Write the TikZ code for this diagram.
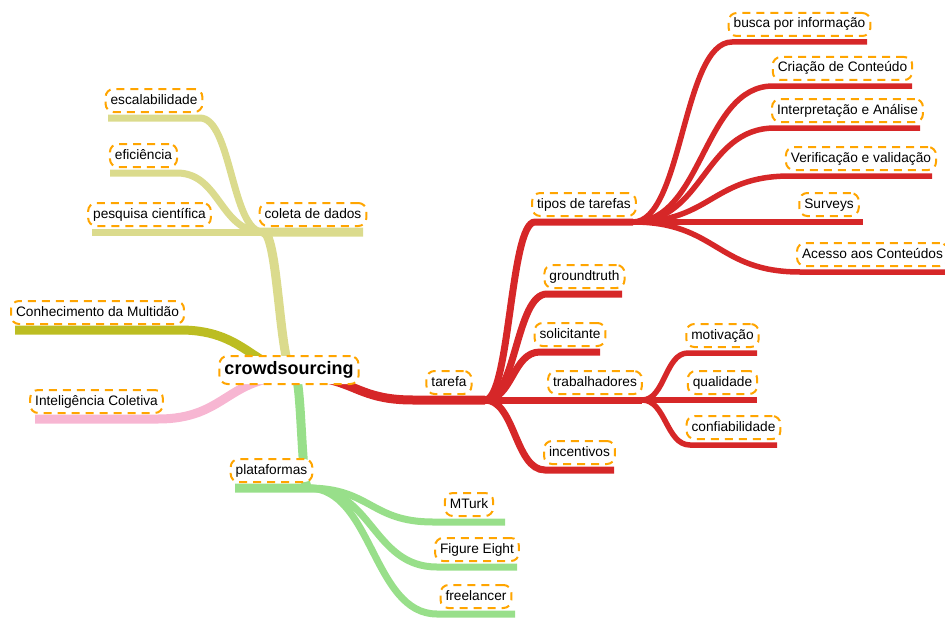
\documentclass[tikz,border=0pt]{standalone}
\usepackage{fontspec}
\setmainfont{Liberation Sans}
\usetikzlibrary{
  positioning,
  calc
}

\definecolor{coletacor}{HTML}{DBDB8D}
\definecolor{olivacor}{HTML}{BCBD22}
\definecolor{rosacor}{HTML}{F7B6D2}
\definecolor{verdecor}{HTML}{98DF8A}
\definecolor{tarefacor}{HTML}{D62728}
\definecolor{bordacor}{HTML}{FFA500}

\begin{document}
\begin{tikzpicture}[
  x=1pt,y=-1pt,
  topico/.style={draw=bordacor, fill=white, line width=2pt,
    dash pattern=on 8pt off 6pt, rounded corners=8pt,
    inner xsep=5pt, inner ysep=5pt, text height=10pt, text depth=3pt,
    font=\fontsize{13.7}{16}\selectfont},
  raiz/.style={topico, font=\fontsize{18}{20}\selectfont\bfseries,
    text height=13pt, text depth=4pt, inner ysep=5.5pt},
  ramo/.style={to path={let \p1=(\tikztostart), \p2=(\tikztotarget) in
    .. controls ({(\x1+\x2)/2},\y1) and ({(\x1+\x2)/2},\y2) .. (\tikztotarget)}},
  nivel1/.style={line width=9pt},
  nivel2/.style={line width=7pt},
  nivel3/.style={line width=5.5pt},
  coleta/.style={draw=coletacor},
  oliva/.style={draw=olivacor},
  rosa/.style={draw=rosacor},
  verde/.style={draw=verdecor},
  tarefa/.style={draw=tarefacor},
]
\useasboundingbox (0,0) rectangle (945,618);

% pontos de ligacao da raiz
\coordinate (hubR) at (295,376);
\coordinate (hubL) at (325,378);

% sublinhados: nome/x inicio/x fim/y
\foreach \nome/\xa/\xb/\y in {
  coleta/263/363/232, escalabilidade/108/200/118, eficiencia/110/177/173,
  pesquisa/92/207/232, conhecimento/15/180/330, inteligencia/35/158/419,
  tarefa/413/485/400, tipos/535/633/222, busca/732/867/42,
  criacao/773/912/86, interpretacao/775/920/128, verificacao/790/932/176,
  surveys/795/863/222, acesso/800/945/272, groundtruth/547/622/294,
  solicitante/540/600/352, trabalhadores/548/642/400, motivacao/688/757/353,
  qualidade/688/757/400, confiabilidade/690/777/445, incentivos/545/614/470,
  plataformas/235/308/488, mturk/433/505/522, figure/437/517/567,
  freelancer/437/515/614}{
  \coordinate (\nome-a) at (\xa,\y);
  \coordinate (\nome-b) at (\xb,\y);
  \coordinate (\nome-m) at ($(\nome-a)!0.5!(\nome-b)$);
}

% coleta de dados
\draw[coleta, nivel1] (hubR) to[ramo] (coleta-a) -- (coleta-b);
\draw[coleta, nivel2] (coleta-a) to[ramo] (escalabilidade-b) -- (escalabilidade-a);
\draw[coleta, nivel2] (coleta-a) to[ramo] (eficiencia-b) -- (eficiencia-a);
\draw[coleta, nivel2] (coleta-a) to[ramo] (pesquisa-b) -- (pesquisa-a);

% lado esquerdo
\draw[oliva, nivel1] (hubL) to[ramo] (conhecimento-b) -- (conhecimento-a);
\draw[rosa, nivel1] (hubR) to[ramo] (inteligencia-b) -- (inteligencia-a);

% plataformas
\draw[verde, nivel1] (hubR) to[ramo] (plataformas-b) -- (plataformas-a);
\foreach \nome in {mturk, figure, freelancer}
  \draw[verde, nivel2] (plataformas-b) to[ramo] (\nome-a) -- (\nome-b);

% tarefa
\draw[tarefa, nivel1] (hubR) to[ramo] (tarefa-a) -- (tarefa-b);
\foreach \nome in {tipos, groundtruth, solicitante, trabalhadores, incentivos}
  \draw[tarefa, nivel2] (tarefa-b) to[ramo] (\nome-a) -- (\nome-b);
\foreach \nome in {busca, criacao, interpretacao, verificacao, surveys, acesso}
  \draw[tarefa, nivel3] (tipos-b) to[ramo] (\nome-a) -- (\nome-b);
\foreach \nome in {motivacao, qualidade, confiabilidade}
  \draw[tarefa, nivel3] (trabalhadores-b) to[ramo] (\nome-a) -- (\nome-b);

% rotulos
\node[raiz] (crowdsourcing) at (289,370) {crowdsourcing};
\node[topico, above=5pt of coleta-m] (coleta) {coleta de dados};
\node[topico, above=5pt of escalabilidade-m] (escalabilidade) {escalabilidade};
\node[topico, above=5pt of eficiencia-m] (eficiencia) {eficiência};
\node[topico, above=5pt of pesquisa-m] (pesquisa) {pesquisa científica};
\node[topico, above=5pt of conhecimento-m] (conhecimento) {Conhecimento da Multidão};
\node[topico, above=5pt of inteligencia-m] (inteligencia) {Inteligência Coletiva};
\node[topico, above=5pt of tarefa-m] (tarefa) {tarefa};
\node[topico, above=5pt of tipos-m] (tipos) {tipos de tarefas};
\node[topico, above=5pt of busca-m] (busca) {busca por informação};
\node[topico, above=5pt of criacao-m] (criacao) {Criação de Conteúdo};
\node[topico, above=5pt of interpretacao-m] (interpretacao) {Interpretação e Análise};
\node[topico, above=5pt of verificacao-m] (verificacao) {Verificação e validação};
\node[topico, above=5pt of surveys-m] (surveys) {Surveys};
\node[topico, above=5pt of acesso-m] (acesso) {Acesso aos Conteúdos};
\node[topico, above=5pt of groundtruth-m] (groundtruth) {groundtruth};
\node[topico, above=5pt of solicitante-m] (solicitante) {solicitante};
\node[topico, above=5pt of trabalhadores-m] (trabalhadores) {trabalhadores};
\node[topico, above=5pt of motivacao-m] (motivacao) {motivação};
\node[topico, above=5pt of qualidade-m] (qualidade) {qualidade};
\node[topico, above=5pt of confiabilidade-m] (confiabilidade) {confiabilidade};
\node[topico, above=5pt of incentivos-m] (incentivos) {incentivos};
\node[topico, above=5pt of plataformas-m] (plataformas) {plataformas};
\node[topico, above=5pt of mturk-m] (mturk) {MTurk};
\node[topico, above=5pt of figure-m] (figure) {Figure Eight};
\node[topico, above=5pt of freelancer-m] (freelancer) {freelancer};
\end{tikzpicture}
\end{document}
